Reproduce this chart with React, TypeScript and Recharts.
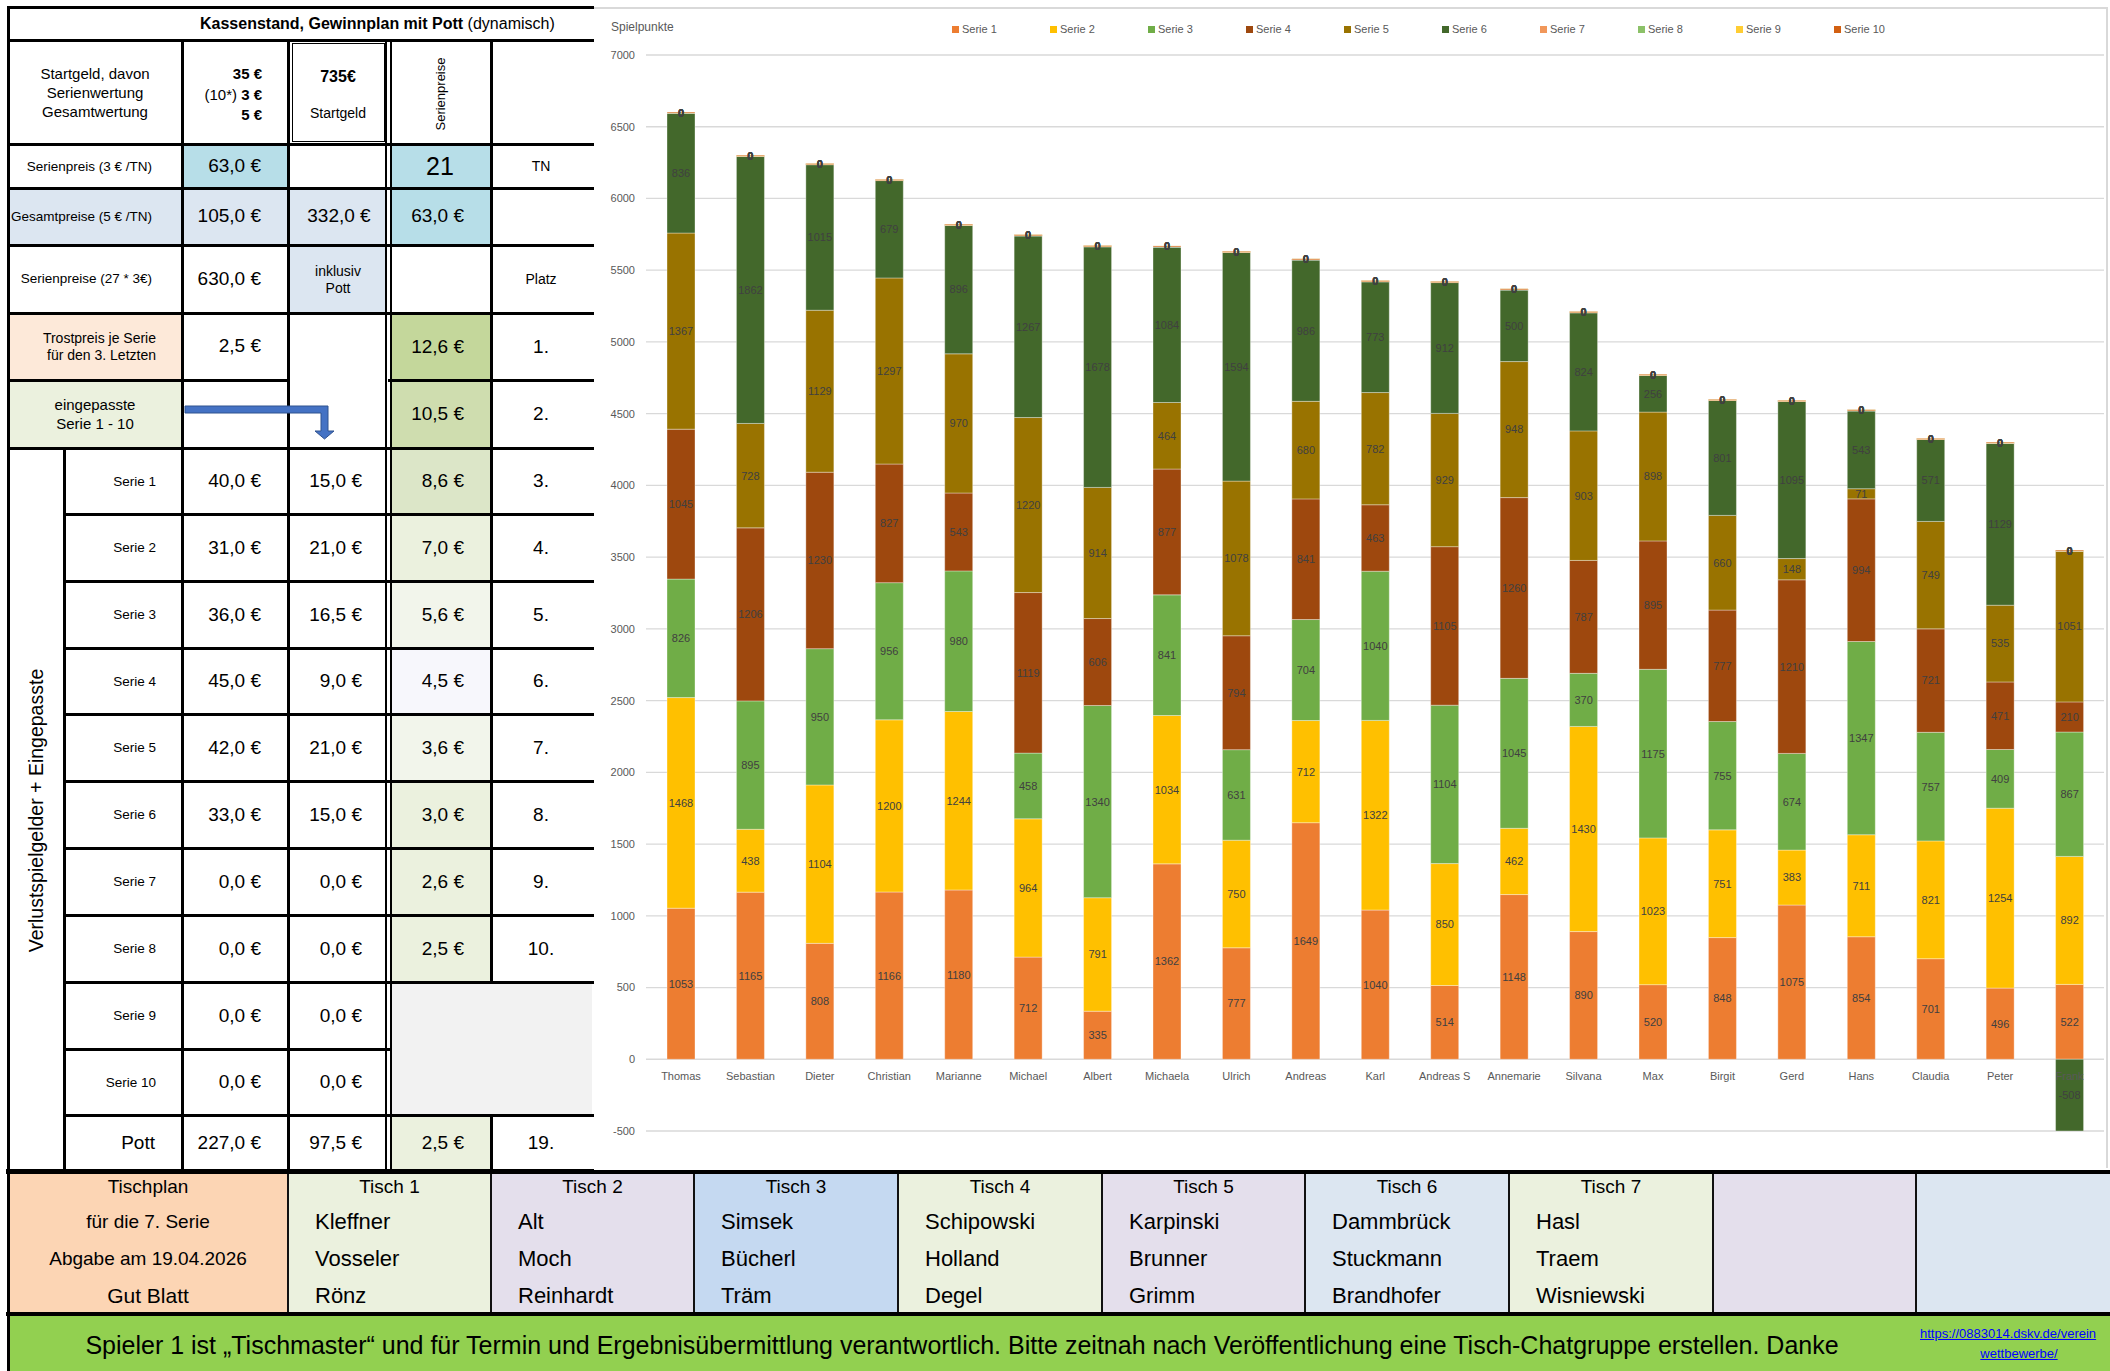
import React from 'react';
import { BarChart, Bar, XAxis, YAxis, CartesianGrid, Legend, LabelList } from 'recharts';

// --- Diagrammdaten (Spielpunkte je Serie) ---
const spieler = ['Thomas', 'Sebastian', 'Dieter', 'Christian', 'Marianne', 'Michael', 'Albert', 'Michaela', 'Ulrich', 'Andreas', 'Karl', 'Andreas S', 'Annemarie', 'Silvana', 'Max', 'Birgit', 'Gerd', 'Hans', 'Claudia', 'Peter', 'Frank'];

const serie1 = [1053, 1165, 808, 1166, 1180, 712, 335, 1362, 777, 1649, 1040, 514, 1148, 890, 520, 848, 1075, 854, 701, 496, 522];
const serie2 = [1468, 438, 1104, 1200, 1244, 964, 791, 1034, 750, 712, 1322, 850, 462, 1430, 1023, 751, 383, 711, 821, 1254, 892];
const serie3 = [826, 895, 950, 956, 980, 458, 1340, 841, 631, 704, 1040, 1104, 1045, 370, 1175, 755, 674, 1347, 757, 409, 867];
const serie4 = [1045, 1206, 1230, 827, 543, 1119, 606, 877, 794, 841, 463, 1105, 1260, 787, 895, 777, 1210, 994, 721, 471, 210];
const serie5 = [1367, 728, 1129, 1297, 970, 1220, 914, 464, 1078, 680, 782, 929, 948, 903, 898, 660, 148, 71, 749, 535, 1051];
const serie6 = [836, 1862, 1015, 679, 896, 1267, 1678, 1084, 1594, 986, 773, 912, 500, 824, 256, 801, 1095, 543, 571, 1129, -508];
const serie7 = [0, 0, 0, 0, 0, 0, 0, 0, 0, 0, 0, 0, 0, 0, 0, 0, 0, 0, 0, 0, 0];
const serie8 = [0, 0, 0, 0, 0, 0, 0, 0, 0, 0, 0, 0, 0, 0, 0, 0, 0, 0, 0, 0, 0];
const serie9 = [0, 0, 0, 0, 0, 0, 0, 0, 0, 0, 0, 0, 0, 0, 0, 0, 0, 0, 0, 0, 0];
const serie10 = [0, 0, 0, 0, 0, 0, 0, 0, 0, 0, 0, 0, 0, 0, 0, 0, 0, 0, 0, 0, 0];

const serienNamen = ['Serie 1', 'Serie 2', 'Serie 3', 'Serie 4', 'Serie 5', 'Serie 6', 'Serie 7', 'Serie 8', 'Serie 9', 'Serie 10'];
const serienFarben = ['#ED7D31', '#FFC000', '#70AD47', '#9E480E', '#997300', '#43682B', '#F1975A', '#8CC168', '#FFCD33', '#D26012'];
const yTicks = [-500, 0, 500, 1000, 1500, 2000, 2500, 3000, 3500, 4000, 4500, 5000, 5500, 6000, 6500, 7000];

const serien = [serie1, serie2, serie3, serie4, serie5, serie6, serie7, serie8, serie9, serie10];
const serienKeys = serienNamen.map((_, k) => 's' + (k + 1));
const chartData = spieler.map((name, i) => {
  const row: any = { name };
  serien.forEach((s, k) => { row[serienKeys[k]] = s[i]; });
  return row;
});

// --- Tabelle links ---
const serienLabels = ['Serie 1', 'Serie 2', 'Serie 3', 'Serie 4', 'Serie 5', 'Serie 6', 'Serie 7', 'Serie 8', 'Serie 9', 'Serie 10'];
const verlustGeld = ['40,0 €', '31,0 €', '36,0 €', '45,0 €', '42,0 €', '33,0 €', '0,0 €', '0,0 €', '0,0 €', '0,0 €'];
const eingepasstGeld = ['15,0 €', '21,0 €', '16,5 €', '9,0 €', '21,0 €', '15,0 €', '0,0 €', '0,0 €', '0,0 €', '0,0 €'];
const platzPreise = ['12,6 €', '10,5 €', '8,6 €', '7,0 €', '5,6 €', '4,5 €', '3,6 €', '3,0 €', '2,6 €', '2,5 €'];
const platzNr = ['1.', '2.', '3.', '4.', '5.', '6.', '7.', '8.', '9.', '10.'];
const platzFarben = ['#C4D79B', '#CFDDAF', '#DCE6C8', '#EBF1DE', '#F2F5EB', '#F7F7FC', '#F2F5EB', '#EBF1DE', '#EBF1DE', '#EBF1DE'];

// --- Tischplan ---
const tischNamen = ['Tisch 1', 'Tisch 2', 'Tisch 3', 'Tisch 4', 'Tisch 5', 'Tisch 6', 'Tisch 7', '', ''];
const tischSpieler = [
  ['Kleffner', 'Vosseler', 'Rönz'],
  ['Alt', 'Moch', 'Reinhardt'],
  ['Simsek', 'Bücherl', 'Träm'],
  ['Schipowski', 'Holland', 'Degel'],
  ['Karpinski', 'Brunner', 'Grimm'],
  ['Dammbrück', 'Stuckmann', 'Brandhofer'],
  ['Hasl', 'Traem', 'Wisniewski'],
  [],
  [],
];
const tischFarben = ['#EBF1DE', '#E4DFEC', '#C5D9F1', '#EBF1DE', '#E4DFEC', '#DCE6F1', '#EBF1DE', '#E4DFEC', '#DCE6F1'];

const RY = [7, 40, 144, 188, 245, 313, 380, 448, 514, 581, 648, 714, 781, 848, 915, 982, 1049, 1115, 1171];
const TX = [8, 288, 491, 694, 898, 1102, 1305, 1509, 1713, 1916, 2110];

const FONT = '"Liberation Sans", Arial, sans-serif';

function Txt({ x, y, anchor = 'middle', size = 19, bold = false, color = '#000', children, rotate = false }: any) {
  if (rotate) {
    return (
      <div style={{ position: 'absolute', left: x - 200, top: y - size, width: 400, height: size * 2, display: 'flex', alignItems: 'center', justifyContent: 'center', transform: 'rotate(-90deg)', fontSize: size, whiteSpace: 'nowrap', color }}>
        {children}
      </div>
    );
  }
  const left = anchor === 'middle' ? x - 400 : anchor === 'end' ? x - 800 : x;
  return (
    <div style={{ position: 'absolute', left, top: y - size, width: 800, height: size * 2, display: 'flex', alignItems: 'center', justifyContent: anchor === 'middle' ? 'center' : anchor === 'end' ? 'flex-end' : 'flex-start', fontSize: size, fontWeight: bold ? 700 : 400, whiteSpace: 'nowrap', color }}>
      {children}
    </div>
  );
}

function Fill({ x1, x2, y1, y2, bg }: any) {
  return <div style={{ position: 'absolute', left: x1, top: y1, width: x2 - x1, height: y2 - y1, background: bg }} />;
}

function HL({ x1, x2, y, t = 3, c = '#000' }: any) {
  return <div style={{ position: 'absolute', left: x1 - t / 2, top: y - t / 2, width: x2 - x1 + t, height: t, background: c }} />;
}

function VL({ x, y1, y2, t = 3, c = '#000' }: any) {
  return <div style={{ position: 'absolute', left: x - t / 2, top: y1 - t / 2, width: t, height: y2 - y1 + t, background: c }} />;
}

const renderLegend = () => (
  <div style={{ display: 'flex', fontSize: 11, color: '#595959', fontFamily: FONT }}>
    {serienNamen.map((n, i) => (
      <div key={n} style={{ width: 98, display: 'flex', alignItems: 'center' }}>
        <span style={{ width: 7, height: 7, background: serienFarben[i], marginRight: 3, display: 'inline-block' }} />
        {n}
      </div>
    ))}
  </div>
);

const renderCategory = (props: any) => {
  const vb = props.viewBox && props.viewBox.width !== undefined ? props.viewBox : props;
  const { x, y, width, height } = vb;
  return (
    <text x={x + width / 2} y={y + height + 21} textAnchor="middle" fill="#595959" fontSize={11}>
      {props.value}
    </text>
  );
};

function KassenTabelle() {
  const serieRows = serienLabels.map((_, i) => ({ y1: RY[7 + i], y2: RY[8 + i] }));
  return (
    <>
      {/* Hintergründe */}
      <Fill x1={182} x2={288} y1={144} y2={188} bg="#B7DEE8" />
      <Fill x1={392} x2={491} y1={144} y2={188} bg="#B7DEE8" />
      <Fill x1={8} x2={182} y1={188} y2={245} bg="#DCE6F1" />
      <Fill x1={182} x2={288} y1={188} y2={245} bg="#DCE6F1" />
      <Fill x1={288} x2={386} y1={188} y2={245} bg="#DCE6F1" />
      <Fill x1={392} x2={491} y1={188} y2={245} bg="#B7DEE8" />
      <Fill x1={288} x2={386} y1={245} y2={313} bg="#DCE6F1" />
      <Fill x1={8} x2={182} y1={313} y2={380} bg="#FDE9D9" />
      <Fill x1={8} x2={182} y1={380} y2={448} bg="#EBF1DE" />
      {platzPreise.map((_, i) => (
        <Fill key={'pf' + i} x1={392} x2={491} y1={RY[5 + i]} y2={RY[6 + i]} bg={platzFarben[i]} />
      ))}
      <Fill x1={392} x2={592} y1={982} y2={1115} bg="#F2F2F2" />
      <Fill x1={392} x2={491} y1={1115} y2={1171} bg="#EBF1DE" />

      {/* Linien */}
      <HL x1={8} x2={592} y={7} />
      <HL x1={8} x2={592} y={40} />
      <HL x1={8} x2={592} y={144} />
      <HL x1={8} x2={592} y={188} />
      <HL x1={8} x2={592} y={245} />
      <HL x1={8} x2={592} y={313} />
      <HL x1={8} x2={288} y={380} />
      <HL x1={389} x2={592} y={380} />
      <HL x1={8} x2={592} y={448} />
      {serieRows.slice(1).map((r, i) => (
        <HL key={'sr' + i} x1={64} x2={r.y1 === 1049 ? 389 : 592} y={r.y1} />
      ))}
      <HL x1={64} x2={592} y={1115} />
      <HL x1={8} x2={592} y={1171} t={4} />
      <VL x={8} y1={7} y2={1171} />
      <VL x={64} y1={448} y2={1171} />
      <VL x={182} y1={40} y2={1171} />
      <VL x={288} y1={40} y2={1171} />
      <VL x={386} y1={40} y2={1171} t={2} />
      <VL x={391} y1={40} y2={1171} t={2} />
      <VL x={491} y1={40} y2={982} />
      <VL x={491} y1={1115} y2={1171} />
      {/* Doppelrahmen Startgeld */}
      <div style={{ position: 'absolute', left: 292, top: 43, width: 91, height: 97, border: '1px solid #000' }} />

      {/* Pfeil */}
      <svg style={{ position: 'absolute', left: 0, top: 0 }} width={600} height={500}>
        <polygon points="185,406 328,406 328,431 334,431 324.5,439 315,431 321,431 321,413 185,413" fill="#4472C4" stroke="#2F528F" strokeWidth={1} />
      </svg>

      {/* Texte */}
      <Txt x={200} y={24} anchor="start" size={16}>
        <b>Kassenstand, Gewinnplan mit Pott</b>&nbsp;(dynamisch)
      </Txt>
      <Txt x={95} y={73.5} size={15}>Startgeld, davon</Txt>
      <Txt x={95} y={92} size={15}>Serienwertung</Txt>
      <Txt x={95} y={111} size={15}>Gesamtwertung</Txt>
      <Txt x={262} y={73.5} anchor="end" size={15} bold>35 €</Txt>
      <Txt x={262} y={94} anchor="end" size={15}>(10*)&nbsp;<b>3 €</b></Txt>
      <Txt x={262} y={114} anchor="end" size={15} bold>5 €</Txt>
      <Txt x={338} y={76.5} size={16} bold>735€</Txt>
      <Txt x={338} y={113} size={14}>Startgeld</Txt>
      <Txt x={440} y={94} size={13} rotate>Serienpreise</Txt>

      <Txt x={152} y={166} anchor="end" size={13.5}>Serienpreis (3 € /TN)</Txt>
      <Txt x={261} y={166} anchor="end" size={19}>63,0 €</Txt>
      <Txt x={440} y={166} size={25}>21</Txt>
      <Txt x={541} y={166} size={14}>TN</Txt>

      <Txt x={152} y={216} anchor="end" size={13.5}>Gesamtpreise (5 € /TN)</Txt>
      <Txt x={261} y={216} anchor="end" size={19}>105,0 €</Txt>
      <Txt x={339} y={216} size={19}>332,0 €</Txt>
      <Txt x={464} y={216} anchor="end" size={19}>63,0 €</Txt>

      <Txt x={152} y={278} anchor="end" size={13.5}>Serienpreise (27 * 3€)</Txt>
      <Txt x={261} y={279} anchor="end" size={19}>630,0 €</Txt>
      <Txt x={338} y={270.5} size={14}>inklusiv</Txt>
      <Txt x={338} y={288} size={14}>Pott</Txt>
      <Txt x={541} y={279} size={14}>Platz</Txt>

      <Txt x={156} y={337.5} anchor="end" size={14}>Trostpreis je Serie</Txt>
      <Txt x={156} y={354.5} anchor="end" size={14}>für den 3. Letzten</Txt>
      <Txt x={261} y={346} anchor="end" size={19}>2,5 €</Txt>

      <Txt x={95} y={404.5} size={15}>eingepasste</Txt>
      <Txt x={95} y={423} size={15}>Serie 1 - 10</Txt>

      {platzPreise.map((p, i) => {
        const cy = (RY[5 + i] + RY[6 + i]) / 2;
        return (
          <React.Fragment key={'pp' + i}>
            <Txt x={464} y={cy} anchor="end" size={19}>{p}</Txt>
            <Txt x={541} y={cy} size={19}>{platzNr[i]}</Txt>
          </React.Fragment>
        );
      })}

      {serieRows.map((r, i) => {
        const cy = (r.y1 + r.y2) / 2;
        return (
          <React.Fragment key={'sv' + i}>
            <Txt x={156} y={cy} anchor="end" size={13.5}>{serienLabels[i]}</Txt>
            <Txt x={261} y={cy} anchor="end" size={19}>{verlustGeld[i]}</Txt>
            <Txt x={362} y={cy} anchor="end" size={19}>{eingepasstGeld[i]}</Txt>
          </React.Fragment>
        );
      })}

      <Txt x={155} y={1143} anchor="end" size={19}>Pott</Txt>
      <Txt x={261} y={1143} anchor="end" size={19}>227,0 €</Txt>
      <Txt x={362} y={1143} anchor="end" size={19}>97,5 €</Txt>
      <Txt x={464} y={1143} anchor="end" size={19}>2,5 €</Txt>
      <Txt x={541} y={1143} size={19}>19.</Txt>

      <Txt x={36} y={810} size={19.5} rotate>Verlustspielgelder + Eingepasste</Txt>
    </>
  );
}

function TischPlan() {
  return (
    <>
      <Fill x1={8} x2={288} y1={1171} y2={1314} bg="#FCD5B4" />
      {tischFarben.map((c, i) => (
        <Fill key={'tf' + i} x1={TX[i + 1]} x2={TX[i + 2]} y1={1171} y2={1314} bg={c} />
      ))}
      <Fill x1={8} x2={2110} y1={1314} y2={1371} bg="#92D050" />
      {TX.slice(1, -1).map((x, i) => (
        <VL key={'tv' + i} x={x} y1={1172} y2={1313} t={1.5} c="#111" />
      ))}
      <VL x={8} y1={1171} y2={1371} t={3} />
      <HL x1={8} x2={2110} y={1172} t={4} />
      <HL x1={8} x2={2110} y={1314} t={4} />

      <Txt x={148} y={1187} size={19}>Tischplan</Txt>
      <Txt x={148} y={1222} size={19}>für die 7. Serie</Txt>
      <Txt x={148} y={1259} size={19}>Abgabe am 19.04.2026</Txt>
      <Txt x={148} y={1296} size={21}>Gut Blatt</Txt>

      {tischNamen.map((t, i) => {
        const x1 = TX[i + 1];
        const x2 = TX[i + 2];
        return (
          <React.Fragment key={'tn' + i}>
            {t && <Txt x={(x1 + x2) / 2} y={1187} size={19}>{t}</Txt>}
            {tischSpieler[i].map((n, k) => (
              <Txt key={n} x={x1 + 27} y={1222 + k * 37} anchor="start" size={22}>{n}</Txt>
            ))}
          </React.Fragment>
        );
      })}

      <Txt x={962} y={1345} size={25}>Spieler 1 ist „Tischmaster“ und für Termin und Ergebnisübermittlung verantwortlich. Bitte zeitnah nach Veröffentlichung eine Tisch-Chatgruppe erstellen. Danke</Txt>
      <div style={{ position: 'absolute', left: 1920, top: 1326, width: 190, overflow: 'hidden', whiteSpace: 'nowrap', fontSize: 13, color: '#0000FF', textDecoration: 'underline' }}>
        https://0883014.dskv.de/verein
      </div>
      <Txt x={2019} y={1353} size={13} color="#0000FF"><span style={{ textDecoration: 'underline' }}>wettbewerbe/</span></Txt>
    </>
  );
}

export default function App() {
  return (
    <div style={{ position: 'absolute', left: 0, top: 0, width: 2110, height: 1371, background: '#fff', fontFamily: FONT, overflow: 'hidden' }}>
      {/* Diagramm */}
      <div style={{ position: 'absolute', left: 592, top: 7, width: 1518, height: 1161 }}>
        <BarChart
          width={1518}
          height={1161}
          data={chartData}
          stackOffset="sign"
          margin={{ top: 48, right: 6, bottom: 37, left: 0 }}
          barSize={28}
        >
          <CartesianGrid vertical={false} stroke="#D9D9D9" strokeWidth={1.3} />
          <XAxis dataKey="name" hide />
          <YAxis
            domain={[-500, 7000]}
            ticks={yTicks}
            allowDataOverflow
            interval={0}
            width={54}
            axisLine={false}
            tickLine={false}
            tickSize={6}
            tickMargin={5}
            tick={{ fontSize: 11, fill: '#595959' }}
          />
          <Legend
            layout="horizontal"
            verticalAlign="middle"
            align="center"
            content={renderLegend}
            wrapperStyle={{ top: 16, left: 360, width: 1000, height: 18 }}
          />
          {serienKeys.map((key, k) => (
            <Bar
              key={key}
              dataKey={key}
              name={serienNamen[k]}
              stackId="a"
              fill={serienFarben[k]}
              stroke="rgba(255,255,255,0.35)"
              strokeWidth={1}
              minPointSize={k >= 6 ? 1 : 0}
              isAnimationActive={false}
            >
              <LabelList dataKey={key} position="center" fill="#404040" fontSize={11} fontWeight={k >= 6 ? 700 : 400} />
              {k === 0 && <LabelList dataKey="name" content={renderCategory} />}
            </Bar>
          ))}
        </BarChart>
        <div style={{ position: 'absolute', left: 19, top: 13, fontSize: 12, color: '#595959' }}>Spielpunkte</div>
      </div>
      <div style={{ position: 'absolute', left: 592, top: 7, width: 1516, height: 1161, borderTop: '2px solid #D9D9D9', borderRight: '2px solid #D9D9D9', boxSizing: 'border-box', pointerEvents: 'none' }} />

      <KassenTabelle />
      <TischPlan />
    </div>
  );
}
